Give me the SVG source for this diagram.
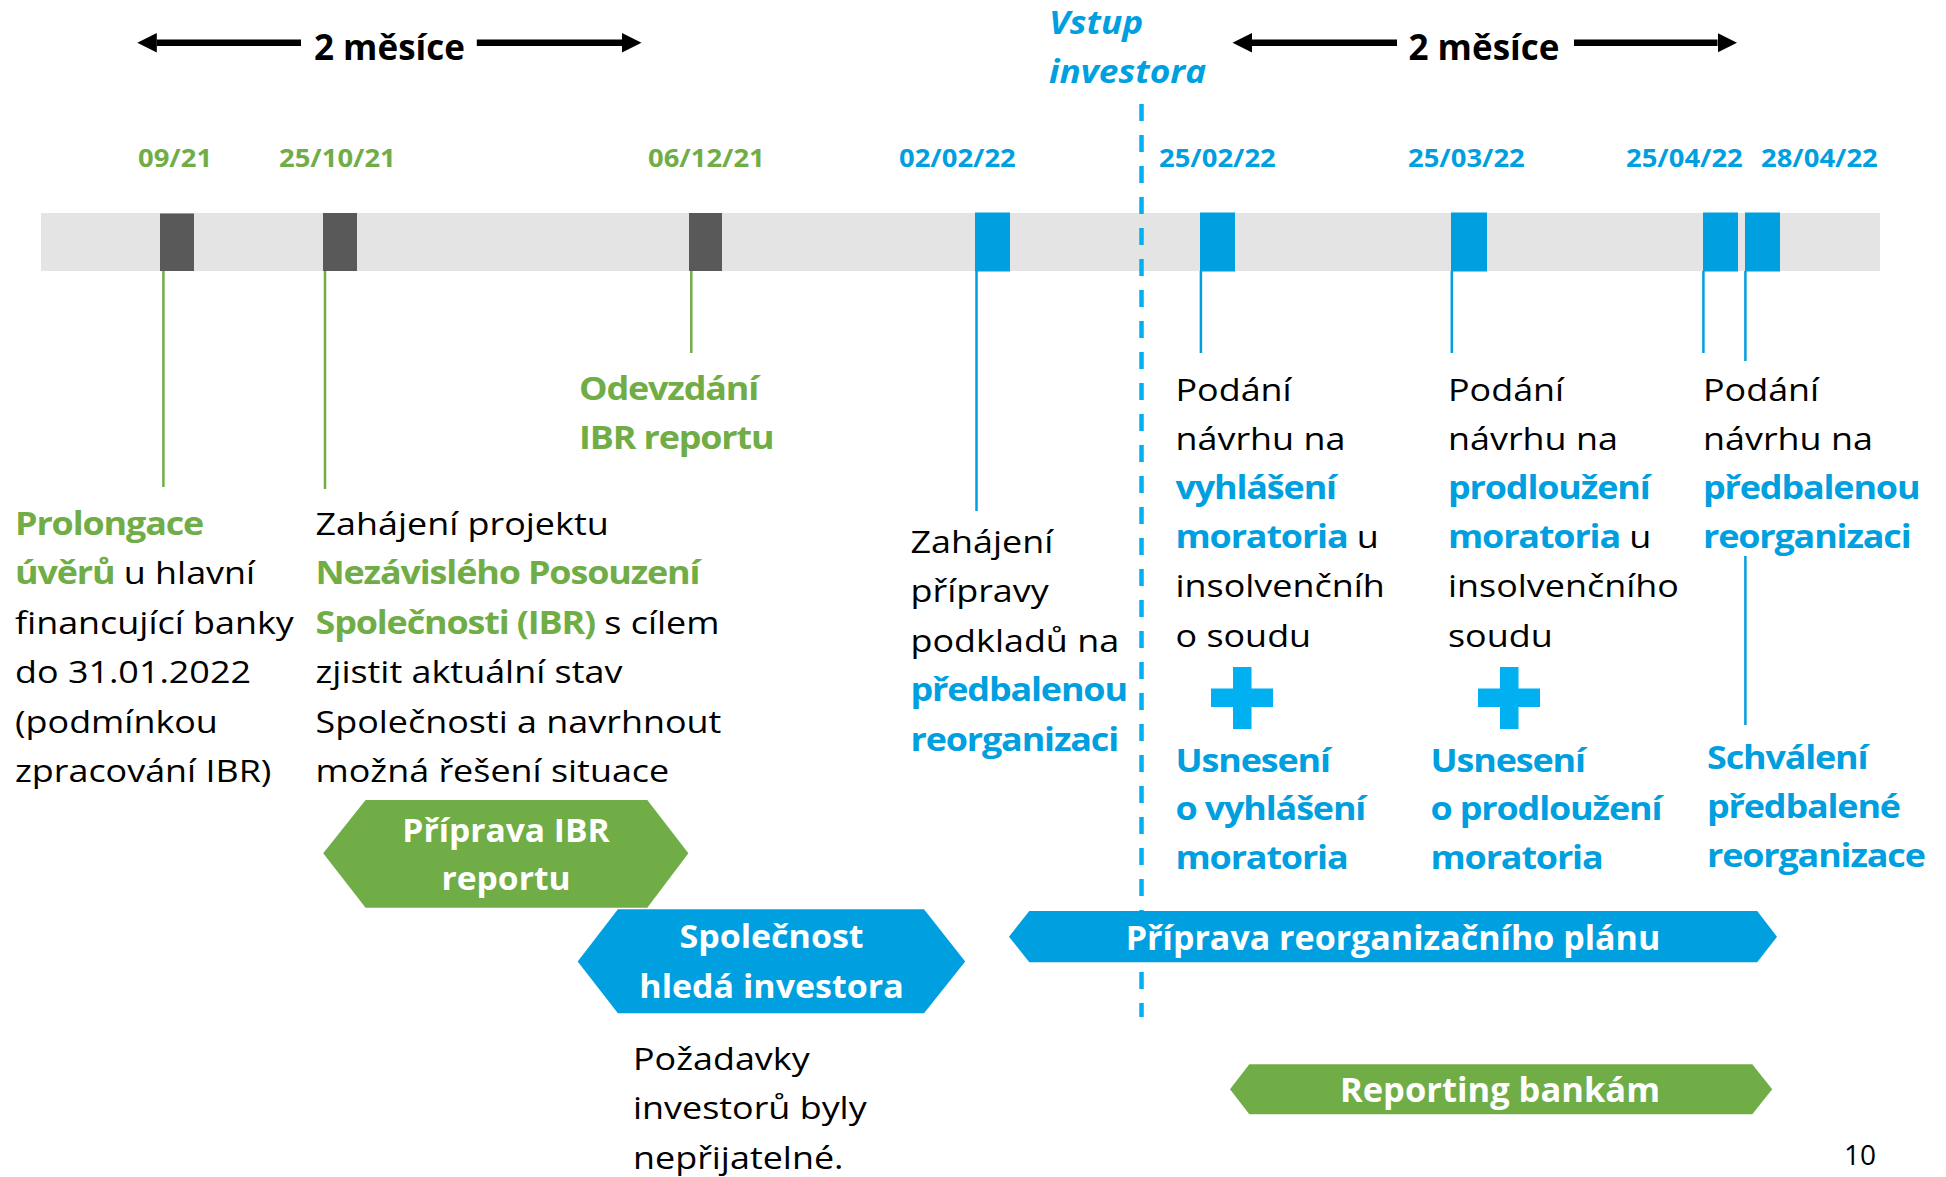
<svg xmlns="http://www.w3.org/2000/svg" width="1946" height="1177" viewBox="0 0 1946 1177">
<defs>
<style>
text { font-family: "Open Sans", "Noto Sans", "Liberation Sans", sans-serif; }
.r { font-size: 31.5px; fill: #000; }
.bd { font-weight: 700; letter-spacing: -1px; }
.g { fill: #70AD47; }
.bl { fill: #009FDF; }
.w { fill: #FFFFFF; }
.k { fill: #000; }
.date { font-size: 24.5px; font-weight: 700; }
.hd { font-size: 35px; font-weight: 700; fill: #000; }
.vst { font-size: 31.5px; font-weight: 700; font-style: italic; fill: #009FDF; }
.lab { font-weight: 700; fill: #FFFFFF; text-anchor: middle; }
.gl { stroke: #70AD47; stroke-width: 2.5; fill: none; }
.bll { stroke: #009FDF; stroke-width: 2.5; fill: none; }
.dark { fill: #595959; }
.mk { fill: #009FDF; }
.plus { fill: #00B0F0; }
.arr { stroke: #000; stroke-width: 6.5; fill: none; marker-end: url(#head); }
</style>
<marker id="head" markerUnits="userSpaceOnUse" viewBox="0 -10 20 20" refX="0" refY="0" markerWidth="20" markerHeight="20" orient="auto">
<path d="M0,-9.7 L19.5,0 L0,9.7 Z" fill="#000"/>
</marker>
</defs>

<!-- timeline bar -->
<g id="timeline">
<rect x="41" y="213" width="1839" height="58" fill="#E4E4E4"/>
<rect class="dark" x="160" y="213.5" width="34" height="57.5"/>
<rect class="dark" x="323" y="213" width="34" height="58"/>
<rect class="dark" x="689" y="213" width="33" height="58"/>
<rect class="mk" x="975" y="212.5" width="35" height="59"/>
<rect class="mk" x="1200" y="212.5" width="35" height="59"/>
<rect class="mk" x="1451" y="212.5" width="36" height="59"/>
<rect class="mk" x="1703" y="212.5" width="35" height="59"/>
<rect class="mk" x="1745" y="212.5" width="35" height="59"/>
</g>

<!-- connectors -->
<g id="connectors">
<line x1="1141.5" y1="104" x2="1141.5" y2="1017" stroke="#00B0F0" stroke-width="4.5" stroke-dasharray="17 14"/>
<line class="gl" x1="163.4" y1="271" x2="163.4" y2="487"/>
<line class="gl" x1="325" y1="271" x2="325" y2="489"/>
<line class="gl" x1="691.3" y1="271" x2="691.3" y2="353"/>
<line class="bll" x1="976.5" y1="271" x2="976.5" y2="511"/>
<line class="bll" x1="1200.9" y1="271" x2="1200.9" y2="353"/>
<line class="bll" x1="1451.8" y1="271" x2="1451.8" y2="353"/>
<line class="bll" x1="1703.4" y1="271" x2="1703.4" y2="353"/>
<line class="bll" x1="1745.4" y1="271" x2="1745.4" y2="361"/>
<line class="bll" x1="1745.4" y1="556" x2="1745.4" y2="725"/>
<line class="arr" x1="301" y1="42.7" x2="156.8" y2="42.7"/>
<line class="arr" x1="476.8" y1="42.7" x2="622" y2="42.7"/>
<line class="arr" x1="1397" y1="42.7" x2="1252" y2="42.7"/>
<line class="arr" x1="1574" y1="42.7" x2="1717.5" y2="42.7"/>
</g>

<!-- header -->
<g id="header">
<text class="hd" x="314" y="60">2 měsíce</text>
<text class="hd" x="1408.5" y="60">2 měsíce</text>
<g transform="translate(1049,0) scale(1.12,1)">
<text class="vst" x="0" y="33.5">Vstup</text>
<text class="vst" x="0" y="83.5">investora</text>
</g>
</g>

<!-- dates -->
<g id="dates">
<g transform="translate(138,0) scale(1.12,1)"><text class="date g" x="0" y="166.7">09/21</text></g>
<g transform="translate(279,0) scale(1.12,1)"><text class="date g" x="0" y="166.7">25/10/21</text></g>
<g transform="translate(648,0) scale(1.12,1)"><text class="date g" x="0" y="166.7">06/12/21</text></g>
<g transform="translate(899,0) scale(1.12,1)"><text class="date bl" x="0" y="166.7">02/02/22</text></g>
<g transform="translate(1159,0) scale(1.12,1)"><text class="date bl" x="0" y="166.7">25/02/22</text></g>
<g transform="translate(1408,0) scale(1.12,1)"><text class="date bl" x="0" y="166.7">25/03/22</text></g>
<g transform="translate(1626,0) scale(1.12,1)"><text class="date bl" x="0" y="166.7">25/04/22</text></g>
<g transform="translate(1761,0) scale(1.12,1)"><text class="date bl" x="0" y="166.7">28/04/22</text></g>
</g>

<!-- event texts -->
<g id="prolongace" transform="translate(15,0) scale(1.14,1)">
<text class="r" x="0" y="535"><tspan class="g bd">Prolongace</tspan></text>
<text class="r" x="0" y="584.5"><tspan class="g bd">úvěrů</tspan> u hlavní</text>
<text class="r" x="0" y="634">financující banky</text>
<text class="r" x="0" y="683.5">do 31.01.2022</text>
<text class="r" x="0" y="733">(podmínkou</text>
<text class="r" x="0" y="782.5">zpracování IBR)</text>
</g>

<g id="zahajeni-ibr" transform="translate(315.5,0) scale(1.14,1)">
<text class="r" x="0" y="535">Zahájení projektu</text>
<text class="r" x="0" y="584.5"><tspan class="g bd">Nezávislého Posouzení</tspan></text>
<text class="r" x="0" y="634"><tspan class="g bd">Společnosti (IBR)</tspan> s cílem</text>
<text class="r" x="0" y="683.5">zjistit aktuální stav</text>
<text class="r" x="0" y="733">Společnosti a navrhnout</text>
<text class="r" x="0" y="782.5">možná řešení situace</text>
</g>

<g id="odevzdani" transform="translate(579,0) scale(1.14,1)">
<text class="r g bd" x="0" y="400">Odevzdání</text>
<text class="r g bd" x="0" y="449">IBR reportu</text>
</g>

<g id="zahajeni-pripravy" transform="translate(910.5,0) scale(1.14,1)">
<text class="r" x="0" y="553">Zahájení</text>
<text class="r" x="0" y="602.4">přípravy</text>
<text class="r" x="0" y="651.8">podkladů na</text>
<text class="r bl bd" x="0" y="701.2">předbalenou</text>
<text class="r bl bd" x="0" y="750.6">reorganizaci</text>
</g>

<g id="podani-vyhlaseni" transform="translate(1175.5,0) scale(1.14,1)">
<text class="r" x="0" y="400.6">Podání</text>
<text class="r" x="0" y="449.8">návrhu na</text>
<text class="r" x="0" y="499"><tspan class="bl bd">vyhlášení</tspan></text>
<text class="r" x="0" y="548.2"><tspan class="bl bd">moratoria</tspan> u</text>
<text class="r" x="0" y="597.4">insolvenčníh</text>
<text class="r" x="0" y="646.6">o soudu</text>
</g>

<g id="podani-prodlouzeni" transform="translate(1448,0) scale(1.14,1)">
<text class="r" x="0" y="400.6">Podání</text>
<text class="r" x="0" y="449.8">návrhu na</text>
<text class="r" x="0" y="499"><tspan class="bl bd">prodloužení</tspan></text>
<text class="r" x="0" y="548.2"><tspan class="bl bd">moratoria</tspan> u</text>
<text class="r" x="0" y="597.4">insolvenčního</text>
<text class="r" x="0" y="646.6">soudu</text>
</g>

<g id="podani-predbalena" transform="translate(1703,0) scale(1.14,1)">
<text class="r" x="0" y="400.6">Podání</text>
<text class="r" x="0" y="449.8">návrhu na</text>
<text class="r bl bd" x="0" y="499">předbalenou</text>
<text class="r bl bd" x="0" y="548.2">reorganizaci</text>
</g>

<g id="plus1"><path class="plus" d="M1233,667 h18.5 v21.5 h21.5 v18.5 h-21.5 v22 h-18.5 v-22 h-22 v-18.5 h22 Z"/></g>
<g id="plus2"><path class="plus" d="M1500,667 h18.5 v21.5 h21.5 v18.5 h-21.5 v22 h-18.5 v-22 h-22 v-18.5 h22 Z"/></g>

<g id="usneseni-vyhlaseni" transform="translate(1175.5,0) scale(1.14,1)">
<text class="r bl bd" x="0" y="771.7">Usnesení</text>
<text class="r bl bd" x="0" y="820.3">o vyhlášení</text>
<text class="r bl bd" x="0" y="869">moratoria</text>
</g>

<g id="usneseni-prodlouzeni" transform="translate(1430.5,0) scale(1.14,1)">
<text class="r bl bd" x="0" y="771.7">Usnesení</text>
<text class="r bl bd" x="0" y="820.3">o prodloužení</text>
<text class="r bl bd" x="0" y="869">moratoria</text>
</g>

<g id="schvaleni" transform="translate(1707,0) scale(1.14,1)">
<text class="r bl bd" x="0" y="769.5">Schválení</text>
<text class="r bl bd" x="0" y="818.5">předbalené</text>
<text class="r bl bd" x="0" y="867.5">reorganizace</text>
</g>

<!-- phase shapes -->
<g id="priprava-ibr">
<polygon fill="#70AD47" points="323.2,853.3 365.6,800 647.3,800 688.4,853.3 647.3,907.7 365.6,907.7"/>
<g transform="translate(506,0) scale(1.05,1)">
<text class="lab" x="0" y="841.7" font-size="32">Příprava IBR</text>
<text class="lab" x="0" y="890" font-size="32">reportu</text>
</g>
</g>

<g id="hleda-investora">
<polygon fill="#009FDF" points="577.7,961.5 617.9,909.3 924,909.3 965.2,961.5 924,1013.3 617.9,1013.3"/>
<g transform="translate(771.5,0) scale(1.03,1)">
<text class="lab" x="0" y="948.3" font-size="33">Společnost</text>
<text class="lab" x="0" y="998.3" font-size="33">hledá investora</text>
</g>
</g>

<g id="pozadavky" transform="translate(633,0) scale(1.14,1)">
<text class="r" x="0" y="1070">Požadavky</text>
<text class="r" x="0" y="1119.3">investorů byly</text>
<text class="r" x="0" y="1168.6">nepřijatelné.</text>
</g>

<g id="priprava-planu">
<polygon fill="#009FDF" points="1009,936.7 1029.3,911 1757.2,911 1777,936.7 1757.2,962.3 1029.3,962.3"/>
<text class="lab" x="1393" y="950" font-size="34">Příprava reorganizačního plánu</text>
</g>

<g id="reporting">
<polygon fill="#70AD47" points="1230,1089.3 1249.3,1064.3 1752.3,1064.3 1772.2,1089.3 1752.3,1114.3 1249.3,1114.3"/>
<text class="lab" x="1500" y="1101.7" font-size="34.5">Reporting bankám</text>
</g>

<g id="page"><text x="1844" y="1165" font-size="28" fill="#000">10</text></g>
</svg>
